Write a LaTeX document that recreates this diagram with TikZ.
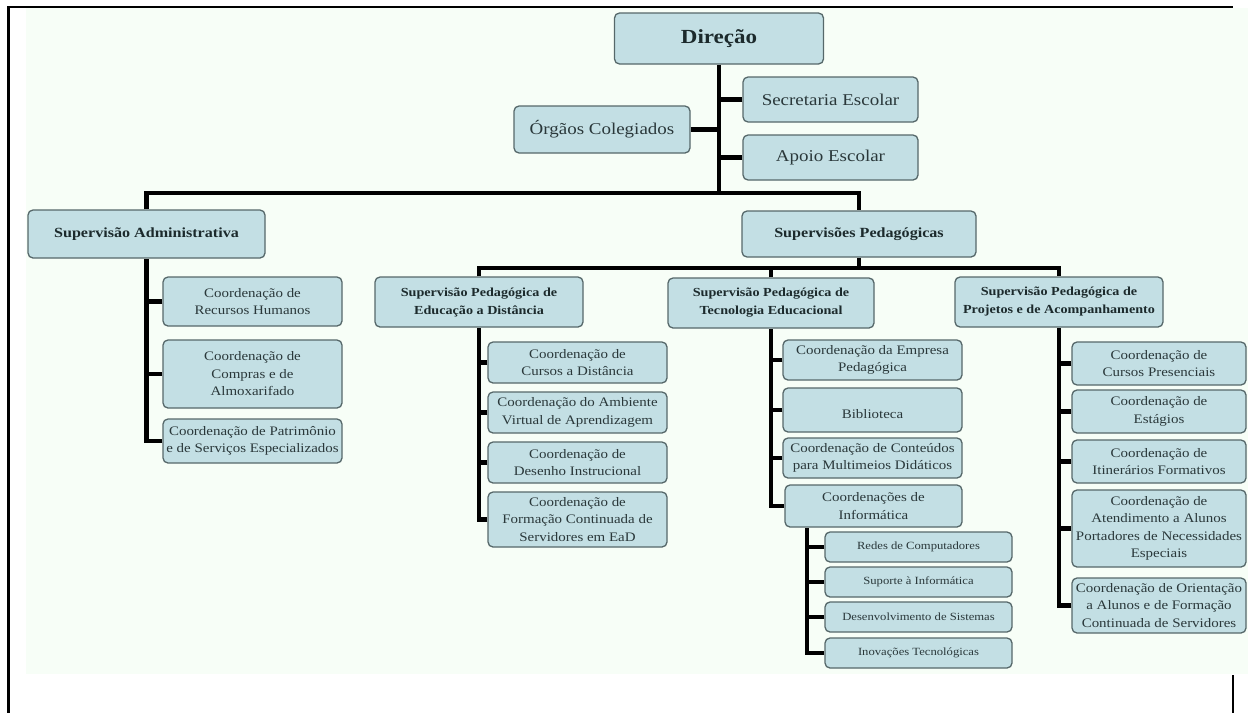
\documentclass[tikz,border=0pt]{standalone}
\usepackage{fontspec}
\setmainfont{Liberation Serif}[FakeStretch=1.15]
\definecolor{bfill}{HTML}{C3DFE4}
\definecolor{bline}{HTML}{56686A}
\definecolor{txt}{HTML}{2A383A}
\definecolor{txtb}{HTML}{1C2A2C}
\definecolor{bgtint}{HTML}{F7FEF7}
\tikzset{
  orgbox/.style={draw=bline, fill=bfill, rounded corners=5pt, line width=1.3pt, align=center, inner sep=0pt, text=txt, font=\fontsize{13}{17.5}\selectfont},
  topbox/.style={orgbox, font=\fontsize{16.5}{19}\selectfont},
  headbox/.style={orgbox, text=txtb, font=\bfseries\fontsize{14}{16}\selectfont},
  subbox/.style={orgbox, text=txtb, font=\bfseries\fontsize{12.3}{18}\selectfont},
  smallbox/.style={orgbox, font=\fontsize{11}{13}\selectfont},
  con/.style={line width=4.2pt, black},
  frameline/.style={black}
}
\begin{document}
\begin{tikzpicture}[x=1pt, y=-1pt]
\useasboundingbox (0,0) rectangle (1248,713);
\fill[bgtint] (26,8) rectangle (1248,674);
\draw[frameline, line width=2pt] (7,7) -- (1233,7);
\draw[frameline, line width=3pt] (8,6) -- (8,713);
\draw[frameline, line width=2pt] (1233,675) -- (1233,713);

% top level
\node[headbox, font=\bfseries\fontsize{20}{22}\selectfont, minimum width=209pt, minimum height=51pt] (dir) at (719,38.5) {Direção};
\node[topbox, minimum width=175pt, minimum height=45pt] (se) at (830.5,99.5) {Secretaria Escolar};
\node[topbox, minimum width=176pt, minimum height=47pt] (og) at (602,129.5) {Órgãos Colegiados};
\node[topbox, minimum width=175pt, minimum height=45pt] (ap) at (830.5,157.5) {Apoio Escolar};

\node[headbox, minimum width=237pt, minimum height=48pt] (sa) at (146.5,234) {Supervisão Administrativa};
\node[headbox, minimum width=234pt, minimum height=46pt] (sp) at (859,234) {Supervisões Pedagógicas};
\coordinate (j1) at (719,193);
\coordinate (j2) at (859,268);

% administrative
\node[orgbox, minimum width=179pt, minimum height=49pt] (rh) at (252.5,301.5) {Coordenação de\\Recursos Humanos};
\node[orgbox, minimum width=179pt, minimum height=68pt] (ca) at (252.5,374) {Coordenação de\\Compras e de\\Almoxarifado};
\node[orgbox, minimum width=179pt, minimum height=44pt] (pt) at (252.5,441) {Coordenação de Patrimônio\\e de Serviços Especializados};

% pedagogical supervisions
\node[subbox, minimum width=208pt, minimum height=50pt] (ead) at (479,302) {Supervisão Pedagógica de\\Educação a Distância};
\node[subbox, minimum width=206pt, minimum height=50pt] (tec) at (771,303) {Supervisão Pedagógica de\\Tecnologia Educacional};
\node[subbox, minimum width=208pt, minimum height=50pt] (proj) at (1059,302) {Supervisão Pedagógica de\\Projetos e de Acompanhamento};

% EaD
\node[orgbox, minimum width=179pt, minimum height=41pt] (cd) at (577.5,362.5) {Coordenação de\\Cursos a Distância};
\node[orgbox, minimum width=179pt, minimum height=41pt] (av) at (577.5,412.5) {Coordenação do Ambiente\\Virtual de Aprendizagem};
\node[orgbox, minimum width=179pt, minimum height=41pt] (di) at (577.5,462.5) {Coordenação de\\Desenho Instrucional};
\node[orgbox, minimum width=179pt, minimum height=55pt] (fc) at (577.5,519.5) {Coordenação de\\Formação Continuada de\\Servidores em EaD};

% Tecnologia
\node[orgbox, minimum width=179pt, minimum height=40pt] (emp) at (872.5,360) {Coordenação da Empresa\\Pedagógica};
\node[orgbox, minimum width=179pt, minimum height=44pt] (bib) at (872.5,410) {\mbox{}\\Biblioteca};
\node[orgbox, minimum width=179pt, minimum height=40pt] (cmd) at (872.5,458) {Coordenação de Conteúdos\\para Multimeios Didáticos};
\node[orgbox, minimum width=177pt, minimum height=42pt] (inf) at (873.5,506) {Coordenações de\\Informática};
\coordinate (infs) at ([xshift=23pt]inf.south west);
\node[smallbox, minimum width=187pt, minimum height=30pt] (rc) at (918.5,547) {Redes de Computadores};
\node[smallbox, minimum width=187pt, minimum height=30pt] (si) at (918.5,582) {Suporte à Informática};
\node[smallbox, minimum width=187pt, minimum height=30pt] (ds) at (918.5,617) {Desenvolvimento de Sistemas};
\node[smallbox, minimum width=187pt, minimum height=30pt] (itn) at (918.5,653) {Inovações Tecnológicas};

% Projetos
\node[orgbox, minimum width=174pt, minimum height=43pt] (cp) at (1159,363.5) {Coordenação de\\Cursos Presenciais};
\node[orgbox, minimum width=174pt, minimum height=43pt] (es) at (1159,411.5) {Coordenação de\\Estágios};
\node[orgbox, minimum width=174pt, minimum height=43pt] (itf) at (1159,461.5) {Coordenação de\\Itinerários Formativos};
\node[orgbox, minimum width=174pt, minimum height=77pt] (ae) at (1159,528.5) {Coordenação de\\Atendimento a Alunos\\Portadores de Necessidades\\Especiais};
\node[orgbox, minimum width=174pt, minimum height=55pt] (ori) at (1159,605.5) {Coordenação de Orientação\\a Alunos e de Formação\\Continuada de Servidores};

% connectors
\draw[con] (dir.south) -- (dir.south |- j1);
\draw[con] (og.east) -- (og.east -| dir.south);
\draw[con] (se.west) -- (se.west -| dir.south);
\draw[con] (ap.west) -- (ap.west -| dir.south);
\draw[con] (sa.north) |- (j1) -| (sp.north);

\foreach \c in {rh,ca,pt} \draw[con] (\c.west) -| (sa.south);

\draw[con] (sp.south) -- (j2);
\draw[con] (ead.north) |- (j2) -| (proj.north);
\draw[con] (tec.north) -- (tec.north |- j2);

\foreach \c in {cd,av,di,fc} \draw[con] (\c.west) -| (ead.south);
\foreach \c in {emp,bib,cmd,inf} \draw[con] (\c.west) -| (tec.south);
\foreach \c in {rc,si,ds,itn} \draw[con] (\c.west) -| (infs);
\foreach \c in {cp,es,itf,ae,ori} \draw[con] (\c.west) -| (proj.south);
\end{tikzpicture}
\end{document}
